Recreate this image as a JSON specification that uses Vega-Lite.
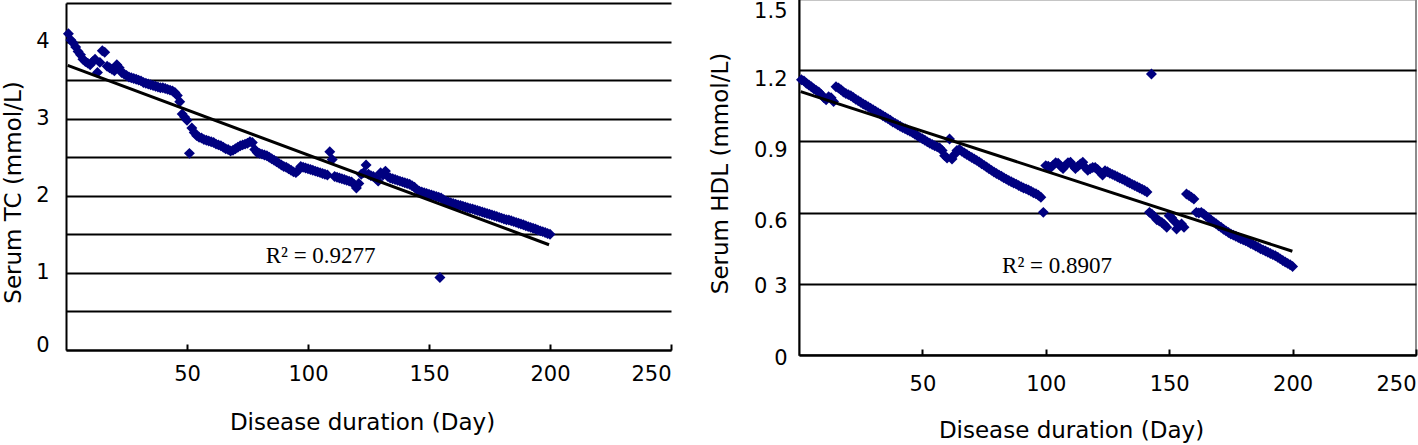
{
  "$schema": "https://vega.github.io/schema/vega-lite/v6.json",
  "padding": {"left": 2, "top": -2, "right": 0, "bottom": 0},
  "background": "white",
  "bounds": "flush",
  "spacing": 128,
  "config": {
    "view": {"stroke": null},
    "font": "DejaVu Sans",
    "axis": {
      "labelFont": "DejaVu Sans", "titleFont": "DejaVu Sans",
      "labelColor": "black", "titleColor": "black", "titleFontWeight": "normal",
      "domainColor": "black", "domainWidth": 2,
      "labelFontSize": 21, "titleFontSize": 23,
      "tickColor": "black", "tickWidth": 2
    }
  },
  "datasets": {
    "tc": [
      {"d":1,"v":4.10},{"d":2,"v":4.02},{"d":3,"v":3.98},{"d":4,"v":3.93},{"d":5,"v":3.87},{"d":6,"v":3.83},{"d":7,"v":3.77},{"d":8,"v":3.74},{"d":9,"v":3.72},{"d":10,"v":3.70},
      {"d":11,"v":3.74},{"d":12,"v":3.77},{"d":13,"v":3.60},{"d":14,"v":3.73},{"d":15,"v":3.88},{"d":16,"v":3.86},{"d":17,"v":3.68},{"d":18,"v":3.66},{"d":19,"v":3.64},{"d":20,"v":3.62},
      {"d":21,"v":3.70},{"d":22,"v":3.66},{"d":23,"v":3.60},{"d":24,"v":3.58},{"d":25,"v":3.56},{"d":26,"v":3.54},{"d":27,"v":3.53},{"d":28,"v":3.52},{"d":29,"v":3.51},{"d":30,"v":3.50},
      {"d":31,"v":3.49},{"d":32,"v":3.47},{"d":33,"v":3.46},{"d":34,"v":3.45},{"d":35,"v":3.44},{"d":36,"v":3.43},{"d":37,"v":3.42},{"d":38,"v":3.41},{"d":39,"v":3.40},{"d":40,"v":3.40},
      {"d":41,"v":3.39},{"d":42,"v":3.38},{"d":43,"v":3.37},{"d":44,"v":3.36},{"d":45,"v":3.34},{"d":46,"v":3.30},{"d":47,"v":3.22},{"d":48,"v":3.06},{"d":49,"v":3.02},{"d":50,"v":2.98},
      {"d":51,"v":2.55},{"d":52,"v":2.88},{"d":53,"v":2.82},{"d":54,"v":2.78},{"d":55,"v":2.76},{"d":56,"v":2.75},{"d":57,"v":2.73},{"d":58,"v":2.72},{"d":59,"v":2.71},{"d":60,"v":2.70},
      {"d":61,"v":2.69},{"d":62,"v":2.67},{"d":63,"v":2.66},{"d":64,"v":2.65},{"d":65,"v":2.63},{"d":66,"v":2.61},{"d":67,"v":2.60},{"d":68,"v":2.58},{"d":69,"v":2.59},{"d":70,"v":2.61},
      {"d":71,"v":2.63},{"d":72,"v":2.65},{"d":73,"v":2.66},{"d":74,"v":2.67},{"d":75,"v":2.68},{"d":76,"v":2.70},{"d":77,"v":2.69},{"d":78,"v":2.60},{"d":79,"v":2.56},{"d":80,"v":2.55},
      {"d":81,"v":2.54},{"d":82,"v":2.53},{"d":83,"v":2.52},{"d":84,"v":2.50},{"d":85,"v":2.48},{"d":86,"v":2.46},{"d":87,"v":2.44},{"d":88,"v":2.42},{"d":89,"v":2.40},{"d":90,"v":2.38},
      {"d":91,"v":2.37},{"d":92,"v":2.35},{"d":93,"v":2.33},{"d":94,"v":2.31},{"d":95,"v":2.30},{"d":96,"v":2.33},{"d":97,"v":2.38},{"d":98,"v":2.37},{"d":99,"v":2.36},{"d":100,"v":2.35},
      {"d":101,"v":2.34},{"d":102,"v":2.33},{"d":103,"v":2.32},{"d":104,"v":2.31},{"d":105,"v":2.30},{"d":106,"v":2.29},{"d":107,"v":2.28},{"d":108,"v":2.27},{"d":109,"v":2.57},{"d":110,"v":2.47},
      {"d":111,"v":2.25},{"d":112,"v":2.24},{"d":113,"v":2.23},{"d":114,"v":2.22},{"d":115,"v":2.21},{"d":116,"v":2.20},{"d":117,"v":2.19},{"d":118,"v":2.18},{"d":119,"v":2.15},{"d":120,"v":2.10},
      {"d":121,"v":2.16},{"d":122,"v":2.28},{"d":123,"v":2.30},{"d":124,"v":2.40},{"d":125,"v":2.28},{"d":126,"v":2.26},{"d":127,"v":2.25},{"d":128,"v":2.23},{"d":129,"v":2.19},{"d":130,"v":2.30},
      {"d":131,"v":2.27},{"d":132,"v":2.32},{"d":133,"v":2.25},{"d":134,"v":2.23},{"d":135,"v":2.22},{"d":136,"v":2.21},{"d":137,"v":2.20},{"d":138,"v":2.19},{"d":139,"v":2.18},{"d":140,"v":2.17},
      {"d":141,"v":2.16},{"d":142,"v":2.15},{"d":143,"v":2.13},{"d":144,"v":2.11},{"d":145,"v":2.08},{"d":146,"v":2.06},{"d":147,"v":2.05},{"d":148,"v":2.04},{"d":149,"v":2.03},{"d":150,"v":2.02},
      {"d":151,"v":2.01},{"d":152,"v":2.00},{"d":153,"v":1.99},{"d":154,"v":1.98},{"d":154.5,"v":0.94},{"d":155,"v":1.97},{"d":156,"v":1.95},{"d":157,"v":1.93},{"d":158,"v":1.92},{"d":159,"v":1.91},{"d":160,"v":1.90},
      {"d":161,"v":1.89},{"d":162,"v":1.88},{"d":163,"v":1.875},{"d":164,"v":1.865},{"d":165,"v":1.855},{"d":166,"v":1.845},{"d":167,"v":1.835},{"d":168,"v":1.83},{"d":169,"v":1.82},{"d":170,"v":1.81},
      {"d":171,"v":1.80},{"d":172,"v":1.79},{"d":173,"v":1.78},{"d":174,"v":1.77},{"d":175,"v":1.76},{"d":176,"v":1.75},{"d":177,"v":1.74},{"d":178,"v":1.73},{"d":179,"v":1.72},{"d":180,"v":1.71},
      {"d":181,"v":1.70},{"d":182,"v":1.69},{"d":183,"v":1.685},{"d":184,"v":1.675},{"d":185,"v":1.665},{"d":186,"v":1.655},{"d":187,"v":1.645},{"d":188,"v":1.635},{"d":189,"v":1.625},{"d":190,"v":1.61},
      {"d":191,"v":1.60},{"d":192,"v":1.59},{"d":193,"v":1.58},{"d":194,"v":1.57},{"d":195,"v":1.555},{"d":196,"v":1.545},{"d":197,"v":1.535},{"d":198,"v":1.525},{"d":199,"v":1.51},{"d":200,"v":1.50}
    ],
    "hdl": [
      {"d":1,"v":1.160},{"d":2,"v":1.155},{"d":3,"v":1.145},{"d":4,"v":1.138},{"d":5,"v":1.130},{"d":6,"v":1.122},{"d":7,"v":1.115},{"d":8,"v":1.108},{"d":9,"v":1.098},{"d":10,"v":1.085},
      {"d":11,"v":1.075},{"d":12,"v":1.088},{"d":13,"v":1.084},{"d":14,"v":1.068},{"d":15,"v":1.130},{"d":16,"v":1.125},{"d":17,"v":1.118},{"d":18,"v":1.108},{"d":19,"v":1.102},{"d":20,"v":1.097},
      {"d":21,"v":1.092},{"d":22,"v":1.085},{"d":23,"v":1.078},{"d":24,"v":1.071},{"d":25,"v":1.065},{"d":26,"v":1.058},{"d":27,"v":1.052},{"d":28,"v":1.046},{"d":29,"v":1.040},{"d":30,"v":1.033},
      {"d":31,"v":1.027},{"d":32,"v":1.021},{"d":33,"v":1.015},{"d":34,"v":1.008},{"d":35,"v":1.002},{"d":36,"v":0.996},{"d":37,"v":0.989},{"d":38,"v":0.982},{"d":39,"v":0.976},{"d":40,"v":0.970},
      {"d":41,"v":0.964},{"d":42,"v":0.958},{"d":43,"v":0.953},{"d":44,"v":0.948},{"d":45,"v":0.943},{"d":46,"v":0.937},{"d":47,"v":0.930},{"d":48,"v":0.924},{"d":49,"v":0.917},{"d":50,"v":0.911},
      {"d":51,"v":0.905},{"d":52,"v":0.898},{"d":53,"v":0.892},{"d":54,"v":0.887},{"d":55,"v":0.882},{"d":56,"v":0.877},{"d":57,"v":0.872},{"d":58,"v":0.862},{"d":59,"v":0.840},{"d":60,"v":0.830},
      {"d":61,"v":0.910},{"d":62,"v":0.826},{"d":63,"v":0.845},{"d":64,"v":0.862},{"d":65,"v":0.866},{"d":66,"v":0.858},{"d":67,"v":0.851},{"d":68,"v":0.845},{"d":69,"v":0.838},{"d":70,"v":0.832},
      {"d":71,"v":0.826},{"d":72,"v":0.820},{"d":73,"v":0.813},{"d":74,"v":0.806},{"d":75,"v":0.799},{"d":76,"v":0.792},{"d":77,"v":0.785},{"d":78,"v":0.778},{"d":79,"v":0.771},{"d":80,"v":0.765},
      {"d":81,"v":0.759},{"d":82,"v":0.753},{"d":83,"v":0.747},{"d":84,"v":0.741},{"d":85,"v":0.735},{"d":86,"v":0.730},{"d":87,"v":0.725},{"d":88,"v":0.720},{"d":89,"v":0.714},{"d":90,"v":0.709},
      {"d":91,"v":0.704},{"d":92,"v":0.700},{"d":93,"v":0.695},{"d":94,"v":0.690},{"d":95,"v":0.684},{"d":96,"v":0.679},{"d":97,"v":0.673},{"d":98,"v":0.665},{"d":99,"v":0.601},{"d":100,"v":0.798},
      {"d":101,"v":0.795},{"d":102,"v":0.790},{"d":103,"v":0.800},{"d":104,"v":0.810},{"d":105,"v":0.808},{"d":106,"v":0.795},{"d":107,"v":0.786},{"d":108,"v":0.800},{"d":109,"v":0.810},{"d":110,"v":0.812},
      {"d":111,"v":0.798},{"d":112,"v":0.786},{"d":113,"v":0.795},{"d":114,"v":0.805},{"d":115,"v":0.812},{"d":116,"v":0.790},{"d":117,"v":0.778},{"d":118,"v":0.785},{"d":119,"v":0.790},{"d":120,"v":0.790},
      {"d":121,"v":0.782},{"d":122,"v":0.770},{"d":123,"v":0.758},{"d":124,"v":0.776},{"d":125,"v":0.772},{"d":126,"v":0.766},{"d":127,"v":0.761},{"d":128,"v":0.756},{"d":129,"v":0.751},{"d":130,"v":0.746},
      {"d":131,"v":0.741},{"d":132,"v":0.736},{"d":133,"v":0.730},{"d":134,"v":0.725},{"d":135,"v":0.719},{"d":136,"v":0.714},{"d":137,"v":0.709},{"d":138,"v":0.704},{"d":139,"v":0.698},{"d":140,"v":0.693},
      {"d":141,"v":0.687},{"d":142,"v":0.601},{"d":142.8,"v":1.184},{"d":143,"v":0.593},{"d":144,"v":0.584},{"d":145,"v":0.570},{"d":146,"v":0.565},{"d":147,"v":0.558},{"d":148,"v":0.550},{"d":149,"v":0.538},{"d":150,"v":0.587},
      {"d":151,"v":0.578},{"d":152,"v":0.565},{"d":153,"v":0.531},{"d":154,"v":0.545},{"d":155,"v":0.552},{"d":156,"v":0.538},{"d":157,"v":0.678},{"d":158,"v":0.672},{"d":159,"v":0.665},{"d":160,"v":0.657},
      {"d":161,"v":0.601},{"d":162,"v":0.598},{"d":163,"v":0.601},{"d":164,"v":0.594},{"d":165,"v":0.585},{"d":166,"v":0.577},{"d":167,"v":0.568},{"d":168,"v":0.560},{"d":169,"v":0.553},{"d":170,"v":0.545},
      {"d":171,"v":0.538},{"d":172,"v":0.530},{"d":173,"v":0.523},{"d":174,"v":0.516},{"d":175,"v":0.510},{"d":176,"v":0.505},{"d":177,"v":0.500},{"d":178,"v":0.495},{"d":179,"v":0.490},{"d":180,"v":0.486},
      {"d":181,"v":0.481},{"d":182,"v":0.476},{"d":183,"v":0.470},{"d":184,"v":0.465},{"d":185,"v":0.459},{"d":186,"v":0.454},{"d":187,"v":0.448},{"d":188,"v":0.443},{"d":189,"v":0.438},{"d":190,"v":0.433},
      {"d":191,"v":0.428},{"d":192,"v":0.423},{"d":193,"v":0.418},{"d":194,"v":0.412},{"d":195,"v":0.405},{"d":196,"v":0.398},{"d":197,"v":0.392},{"d":198,"v":0.386},{"d":199,"v":0.380},{"d":200,"v":0.373}
    ]
  },
  "hconcat": [
    {
      "width": 605,
      "height": 351,
      "encoding": {
        "x": {
          "field": "d", "type": "quantitative",
          "scale": {"domain": [0, 250], "nice": false, "zero": false},
          "axis": {
            "title": "Disease duration (Day)",
            "values": [50, 100, 150, 200, 250],
            "grid": false,
            "tickSize": -6,
            "labelPadding": 19,
            "labelFlush": true,
            "titlePadding": 27,
            "titleX": 296
          }
        },
        "y": {
          "field": "v", "type": "quantitative",
          "scale": {"domain": [0, 4.5], "range": [351, 4], "nice": false, "zero": false},
          "axis": {
            "title": "Serum TC (mmol/L)",
            "values": [0, 0.5, 1, 1.5, 2, 2.5, 3, 3.5, 4, 4.5],
            "grid": true,
            "gridColor": "black",
            "gridWidth": 2,
            "ticks": false,
            "labelPadding": 17,
            "labelExpr": "datum.value % 1 == 0 ? format(datum.value, 'd') : ''",
            "labelOffset": {"condition": {"test": "datum.value == 0", "value": -5}, "value": 0},
            "titlePadding": 10,
            "titleY": 193
          }
        }
      },
      "layer": [
        {
          "data": {"name": "tc"},
          "mark": {"type": "point", "shape": "diamond", "filled": true, "color": "#000080", "size": 120, "opacity": 1, "strokeWidth": 0}
        },
        {
          "data": {"values": [{"d": 0.7, "v": 3.69, "d2": 199.6, "v2": 1.365}]},
          "mark": {"type": "rule", "color": "black", "strokeWidth": 3},
          "encoding": {"x2": {"field": "d2"}, "y2": {"field": "v2"}}
        },
        {
          "data": {"values": [{"d": 82.5, "v": 1.225, "t": "R² = 0.9277"}]},
          "mark": {"type": "text", "font": "Liberation Serif", "fontSize": 23, "align": "left", "baseline": "middle", "color": "black"},
          "encoding": {"text": {"field": "t"}}
        }
      ]
    },
    {
      "width": 617,
      "height": 356,
      "view": {"stroke": "#8c8c8c", "strokeWidth": 2},
      "encoding": {
        "x": {
          "field": "d", "type": "quantitative",
          "scale": {"domain": [0, 250], "nice": false, "zero": false},
          "axis": {
            "title": "Disease duration (Day)",
            "values": [50, 100, 150, 200, 250],
            "grid": false,
            "tickSize": -6,
            "labelPadding": 24,
            "labelFlush": true,
            "titlePadding": 25,
            "titleX": 272
          }
        },
        "y": {
          "field": "v", "type": "quantitative",
          "scale": {"domain": [0, 1.5], "nice": false, "zero": false},
          "axis": {
            "title": "Serum HDL (mmol/L)",
            "values": [0, 0.3, 0.6, 0.9, 1.2, 1.5],
            "grid": true,
            "gridColor": {"condition": {"test": "datum.value == 1.5", "value": "#8c8c8c"}, "value": "black"},
            "gridWidth": 2,
            "ticks": false,
            "labelPadding": 12,
            "labelExpr": "datum.value == 0 ? '0' : (datum.value == 0.3 ? '0 3' : format(datum.value, '.1f'))",
            "labelOffset": {"condition": [{"test": "datum.value < 0.4", "value": 3}, {"test": "datum.value > 1.4", "value": 12}], "value": 9},
            "titlePadding": 21,
            "titleY": 174
          }
        }
      },
      "layer": [
        {
          "data": {"name": "hdl"},
          "mark": {"type": "point", "shape": "diamond", "filled": true, "color": "#000080", "size": 120, "opacity": 1, "strokeWidth": 0}
        },
        {
          "data": {"values": [{"d": 0.7, "v": 1.11, "d2": 199.9, "v2": 0.437}]},
          "mark": {"type": "rule", "color": "black", "strokeWidth": 3},
          "encoding": {"x2": {"field": "d2"}, "y2": {"field": "v2"}}
        },
        {
          "data": {"values": [{"d": 82.3, "v": 0.376, "t": "R² = 0.8907"}]},
          "mark": {"type": "text", "font": "Liberation Serif", "fontSize": 23, "align": "left", "baseline": "middle", "color": "black"},
          "encoding": {"text": {"field": "t"}}
        }
      ]
    }
  ]
}
